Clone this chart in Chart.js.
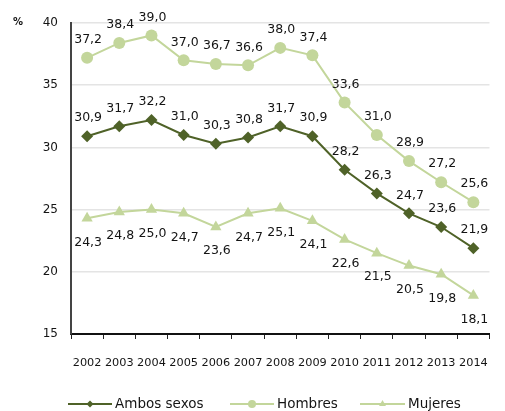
<!DOCTYPE html>
<html>
<head>
<meta charset="utf-8">
<script src="https://cdn.jsdelivr.net/npm/chart.js@4/dist/chart.umd.min.js"></script>
<style>
html,body{margin:0;padding:0;background:#fff;}
#wrap{width:505px;height:411px;position:relative;}
</style>
</head>
<body>
<div id="wrap"><canvas id="c" width="505" height="411"></canvas></div>
<script>
const years = ['2002','2003','2004','2005','2006','2007','2008','2009','2010','2011','2012','2013','2014'];
const ambosSexos = [30.9, 31.7, 32.2, 31.0, 30.3, 30.8, 31.7, 30.9, 28.2, 26.3, 24.7, 23.6, 21.9];
const hombres = [37.2, 38.4, 39.0, 37.0, 36.7, 36.6, 38.0, 37.4, 33.6, 31.0, 28.9, 27.2, 25.6];
const mujeres = [24.3, 24.8, 25.0, 24.7, 23.6, 24.7, 25.1, 24.1, 22.6, 21.5, 20.5, 19.8, 18.1];
const seriesNames = ['Ambos sexos', 'Hombres', 'Mujeres'];
const yTicks = [15, 20, 25, 30, 35, 40];

const DARK = '#4f6228';
const LIGHT = '#c3d69b';
const FONT = '"DejaVu Sans", sans-serif';
const TEXT = '#141414';

const fmt = v => v.toFixed(1).replace('.', ',');

const labelPlugin = {
  id: 'labels',
  afterDatasetsDraw(chart) {
    const ctx = chart.ctx;
    ctx.save();
    ctx.font = '12.5px ' + FONT;
    ctx.fillStyle = TEXT;
    ctx.textAlign = 'center';
    ctx.textBaseline = 'middle';
    chart.data.datasets.forEach((ds, di) => {
      const meta = chart.getDatasetMeta(di);
      meta.data.forEach((pt, i) => {
        const off = ds.labelBelow ? 24 : -18;
        ctx.fillText(fmt(ds.data[i]), pt.x + 1, pt.y + off);
      });
    });
    ctx.restore();
  },
  afterDraw(chart) {
    const ctx = chart.ctx;
    ctx.save();
    // % unit label
    ctx.font = 'bold 10px ' + FONT;
    ctx.fillStyle = TEXT;
    ctx.textAlign = 'left';
    ctx.textBaseline = 'middle';
    ctx.fillText('%', 13, 22);
    // custom legend
    const items = [
      {x0: 68, x1: 112, tx: 115, style: 'rectRot', color: DARK, r: 3.5},
      {x0: 230, x1: 274, tx: 277, style: 'circle', color: LIGHT, r: 4},
      {x0: 360, x1: 405, tx: 408, style: 'triangle', color: LIGHT, r: 4}
    ];
    const y = 404;
    items.forEach((it, i) => {
      ctx.strokeStyle = it.color;
      ctx.lineWidth = 2;
      ctx.beginPath();
      ctx.moveTo(it.x0, y);
      ctx.lineTo(it.x1, y);
      ctx.stroke();
      ctx.fillStyle = it.color;
      Chart.helpers.drawPoint(ctx, {pointStyle: it.style, radius: it.r, borderWidth: 0}, (it.x0 + it.x1) / 2, y);
      ctx.fillStyle = TEXT;
      ctx.font = '13.5px ' + FONT;
      ctx.textAlign = 'left';
      ctx.textBaseline = 'middle';
      ctx.fillText(seriesNames[i], it.tx, y);
    });
    ctx.restore();
  }
};

new Chart(document.getElementById('c'), {
  type: 'line',
  data: {
    labels: years,
    datasets: [
      {label: seriesNames[0], data: ambosSexos, borderColor: DARK, backgroundColor: DARK, borderWidth: 2,
       pointStyle: 'rectRot', pointRadius: 6, pointBorderWidth: 0, tension: 0},
      {label: seriesNames[1], data: hombres, borderColor: LIGHT, backgroundColor: LIGHT, borderWidth: 2,
       pointStyle: 'circle', pointRadius: 6, pointBorderWidth: 0, tension: 0},
      {label: seriesNames[2], data: mujeres, borderColor: LIGHT, backgroundColor: LIGHT, borderWidth: 2,
       pointStyle: 'triangle', pointRadius: 6.5, pointBorderWidth: 0, tension: 0, labelBelow: true}
    ]
  },
  options: {
    responsive: false,
    animation: false,
    layout: {padding: {top: 23, right: 1, left: 0, bottom: 0}},
    plugins: {legend: {display: false}, tooltip: {enabled: false}},
    scales: {
      x: {
        offset: true,
        grid: {offset: true, drawOnChartArea: false, drawTicks: true, tickLength: 5, color: '#222', lineWidth: 1},
        border: {display: true, color: '#111', width: 2},
        ticks: {font: {family: FONT, size: 11.3}, color: TEXT, padding: 17, maxRotation: 0, autoSkip: false},
        afterFit(s) { s.height = 77; }
      },
      y: {
        min: 15, max: 40,
        afterBuildTicks(s) { s.ticks = yTicks.map(v => ({value: v})); },
        grid: {color: '#e4e4e4', lineWidth: 1.5, drawTicks: false},
        border: {display: true, color: '#444', width: 2},
        ticks: {font: {family: FONT, size: 12}, color: TEXT, padding: 13},
        afterFit(s) { s.width = 71; }
      }
    }
  },
  plugins: [labelPlugin]
});
</script>
</body>
</html>
